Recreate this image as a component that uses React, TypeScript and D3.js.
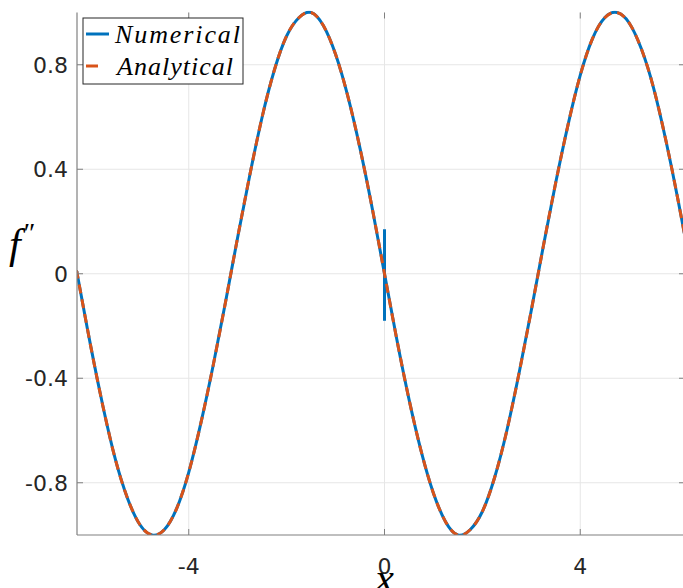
import React from 'react';
import * as d3 from 'd3';

const xSamples = [
  -6.28, -6.25, -6.0, -5.75, -5.5, -5.25, -5.0, -4.75, -4.5, -4.25, -4.0, -3.75, -3.5, -3.25,
  -3.0, -2.75, -2.5, -2.25, -2.0, -1.75, -1.5, -1.25, -1.0, -0.75, -0.5, -0.25, 0,
  0.25, 0.5, 0.75, 1.0, 1.25, 1.5, 1.75, 2.0, 2.25, 2.5, 2.75, 3.0, 3.25, 3.5, 3.75,
  4.0, 4.25, 4.5, 4.75, 5.0, 5.25, 5.5, 5.75, 6.0, 6.25, 6.28,
];
const fppValues = [
  0.0, -0.03, -0.28, -0.51, -0.71, -0.86, -0.96, -1.0, -0.98, -0.9, -0.76, -0.57, -0.35, -0.11,
  0.14, 0.38, 0.6, 0.78, 0.91, 0.98, 1.0, 0.95, 0.84, 0.68, 0.48, 0.25, 0.0,
  -0.25, -0.48, -0.68, -0.84, -0.95, -1.0, -0.98, -0.91, -0.78, -0.6, -0.38, -0.14, 0.11, 0.35, 0.57,
  0.76, 0.9, 0.98, 1.0, 0.96, 0.86, 0.71, 0.51, 0.28, 0.03, 0.0,
];
// the numerical solution has a small jump at x = 0
const spikeX = [0, 0];
const spikeY = [0.17, -0.18];

const xTicks = [-4, 0, 4];
const yTicks = [-0.8, -0.4, 0, 0.4, 0.8];
const legendLabels = ['Numerical', 'Analytical'];

const W = 683;
const H = 588;
const BLUE = '#0072BD';
const ORANGE = '#D95319';

export default function App() {
  const x = d3.scaleLinear().domain([-2 * Math.PI, 2 * Math.PI]).range([77, 692]);
  const y = d3.scaleLinear().domain([-1, 1]).range([535, 12.5]);

  const pts = xSamples.map((v, i) => [v, fppValues[i]] as [number, number]);
  const curve = d3
    .line<[number, number]>()
    .x((d) => x(d[0]))
    .y((d) => y(d[1]))
    .curve(d3.curveNatural);
  const straight = d3
    .line<[number, number]>()
    .x((d) => x(d[0]))
    .y((d) => y(d[1]));
  const spikePts = spikeX.map((v, i) => [v, spikeY[i]] as [number, number]);

  const left = x.range()[0];
  const right = 685;
  const top = y.range()[1];
  const bottom = y.range()[0];
  const tickLen = 6;
  const axisColor = '#808080';
  const textColor = '#262626';

  return (
    <svg
      width={W}
      height={H}
      style={{ position: 'absolute', left: 0, top: 0, background: '#fff' }}
    >
      <defs>
        <clipPath id="plotArea">
          <rect x={left} y={top - 2} width={W - left} height={bottom - top + 2} />
        </clipPath>
      </defs>
      <rect width={W} height={H} fill="#fff" />

      {/* grid */}
      {xTicks.map((t) => (
        <line key={'gx' + t} x1={x(t)} x2={x(t)} y1={top} y2={bottom} stroke="#e6e6e6" />
      ))}
      {yTicks.map((t) => (
        <line key={'gy' + t} x1={left} x2={W} y1={y(t)} y2={y(t)} stroke="#e6e6e6" />
      ))}

      {/* curves */}
      <g clipPath="url(#plotArea)">
        <path d={curve(pts) ?? ''} fill="none" stroke={BLUE} strokeWidth={3} />
        <path d={straight(spikePts) ?? ''} fill="none" stroke={BLUE} strokeWidth={3} />
        <path
          d={curve(pts) ?? ''}
          fill="none"
          stroke={ORANGE}
          strokeWidth={3}
          strokeDasharray="9,6"
        />
      </g>

      {/* axes */}
      <line x1={left} x2={left} y1={top} y2={bottom} stroke={axisColor} strokeWidth={1.2} />
      <line x1={left} x2={W} y1={bottom} y2={bottom} stroke={axisColor} strokeWidth={1.2} />
      {xTicks.map((t) => (
        <g key={'tx' + t}>
          <line x1={x(t)} x2={x(t)} y1={bottom} y2={bottom - tickLen} stroke={axisColor} />
          <line x1={x(t)} x2={x(t)} y1={top} y2={top + tickLen} stroke={axisColor} />
          <text
            x={x(t)}
            y={574}
            textAnchor="middle"
            fontFamily="DejaVu Sans"
            fontSize={22}
            fill={textColor}
          >
            {t}
          </text>
        </g>
      ))}
      {yTicks.map((t) => (
        <g key={'ty' + t}>
          <line x1={left} x2={left + tickLen} y1={y(t)} y2={y(t)} stroke={axisColor} />
          <line x1={right - tickLen} x2={right} y1={y(t)} y2={y(t)} stroke={axisColor} />
          <text
            x={68}
            y={y(t)}
            dy="0.36em"
            textAnchor="end"
            fontFamily="DejaVu Sans"
            fontSize={22}
            fill={textColor}
          >
            {t === 0 ? '0' : t}
          </text>
        </g>
      ))}

      {/* axis labels */}
      <text x={9} y={258} fontFamily="Liberation Serif" fontStyle="italic" fontSize={42} fill="#000">
        f
        <tspan fontSize={28} dy={-16} dx={3} fontStyle="normal">
          ″
        </tspan>
      </text>
      <text
        x={x(0)}
        y={592}
        textAnchor="middle"
        fontFamily="Liberation Serif"
        fontStyle="italic"
        fontSize={42}
        fill="#000"
      >
        x
      </text>

      {/* legend */}
      <g>
        <rect x={83} y={18} width={160} height={66} fill="#fff" stroke="#262626" strokeWidth={1} />
        <line x1={86} x2={109} y1={34} y2={34} stroke={BLUE} strokeWidth={3} />
        <line x1={86} x2={98} y1={66} y2={66} stroke={ORANGE} strokeWidth={3} />
        {legendLabels.map((lab, i) => (
          <text
            key={lab}
            x={i === 0 ? 115 : 117}
            y={i === 0 ? 43 : 75}
            fontFamily="Liberation Serif"
            fontStyle="italic"
            fontSize={26}
            textLength={i === 0 ? 125 : 116}
            lengthAdjust="spacing"
            fill="#000"
          >
            {lab}
          </text>
        ))}
      </g>
    </svg>
  );
}
